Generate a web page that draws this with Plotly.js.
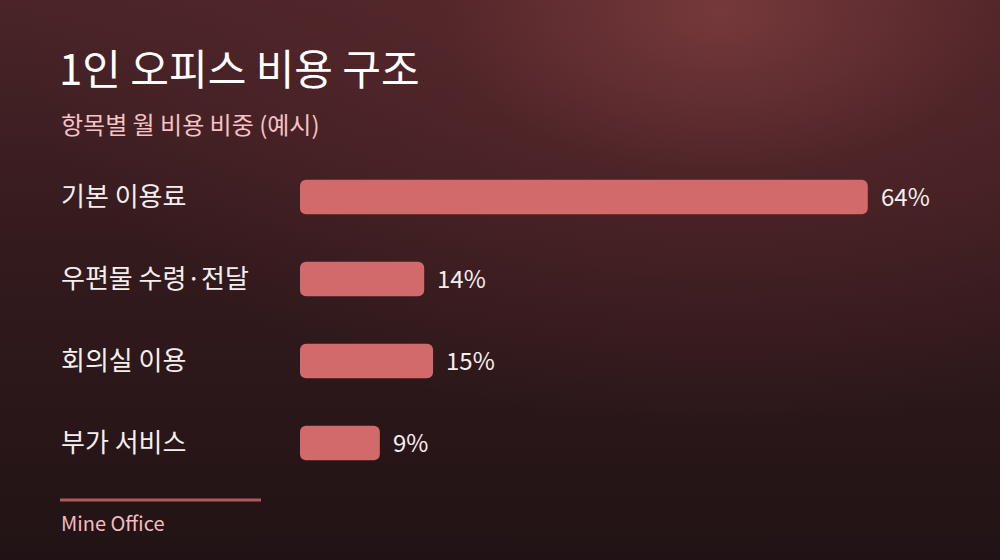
<!DOCTYPE html>
<html>
<head>
<meta charset="utf-8">
<script src="https://cdn.plot.ly/plotly-3.0.1.min.js"></script>
<style>
  html, body { margin:0; padding:0; width:1000px; height:560px; overflow:hidden; }
  body {
    background:
      radial-gradient(ellipse 700px 420px at 720px 10px, rgba(120,58,60,0.95) 0%, rgba(90,40,44,0.6) 40%, rgba(60,28,32,0) 100%),
      linear-gradient(180deg, #4a2428 0%, #331a1d 45%, #211315 100%);
  }
  #chart { width:1000px; height:560px; }
</style>
</head>
<body>
<div id="chart"></div>
<script>
const titleText = "1인 오피스 비용 구조";
const subtitleText = "항목별 월 비용 비중 (예시)";
const sourceText = "Mine Office";
const categories = ["기본 이용료", "우편물 수령·전달", "회의실 이용", "부가 서비스"];
const values = [64, 14, 15, 9];
const valueLabels = ["64%", "14%", "15%", "9%"];

const W = 1000, H = 560;
const M = { l: 300, r: 79, t: 156, b: 76 };
const plotW = W - M.l - M.r, plotH = H - M.t - M.b;
const px2x = px => (px - M.l) / plotW;
const py2y = py => (H - M.b - py) / plotH;
const FONT = '"Noto Sans CJK KR", "Noto Sans", sans-serif';

const annotations = [];
categories.forEach((c, i) => {
  annotations.push({
    xref: 'paper', yref: 'y', x: px2x(59), y: c, xanchor: 'left', yanchor: 'middle', yshift: 3,
    text: c, showarrow: false, font: { family: FONT, size: 26, color: '#f6eeee' }
  });
  annotations.push({
    xref: 'x', yref: 'y', x: values[i], y: c, xanchor: 'left', yanchor: 'middle', xshift: 11, yshift: 2,
    text: valueLabels[i], showarrow: false, font: { family: FONT, size: 24, color: '#f6eeee' }
  });
});
annotations.push({
  xref: 'paper', yref: 'paper', x: px2x(59), y: py2y(124), xanchor: 'left', yanchor: 'middle',
  text: subtitleText, showarrow: false, font: { family: FONT, size: 24, color: '#f6c2c6' }
});
annotations.push({
  xref: 'paper', yref: 'paper', x: px2x(59), y: py2y(522), xanchor: 'left', yanchor: 'middle',
  text: sourceText, showarrow: false, font: { family: FONT, size: 20, color: '#f4bcc0' }
});

const data = [
  { type: 'bar', orientation: 'h', y: categories, x: values, base: values.map(() => 0),
    width: 0.42, marker: { color: '#d26a6b', cornerradius: 6 }, hoverinfo: 'skip' }
];

const layout = {
  width: W, height: H,
  margin: M,
  barmode: 'overlay',
  paper_bgcolor: 'rgba(0,0,0,0)',
  plot_bgcolor: 'rgba(0,0,0,0)',
  showlegend: false,
  title: {
    text: titleText, x: 0.059, xref: 'container', xanchor: 'left',
    y: 1 - 70 / H, yref: 'container', yanchor: 'middle',
    font: { family: FONT, size: 42, color: '#ffffff' }
  },
  xaxis: { range: [0, 70], visible: false, fixedrange: true },
  yaxis: { type: 'category', categoryorder: 'array', categoryarray: categories,
           range: [3.5, -0.5], visible: false, fixedrange: true },
  annotations: annotations,
  shapes: [{
    type: 'line', xref: 'paper', yref: 'paper',
    x0: px2x(60), x1: px2x(261), y0: py2y(500), y1: py2y(500),
    line: { color: '#b4585d', width: 3 }
  }]
};

Plotly.newPlot('chart', data, layout, { displayModeBar: false, staticPlot: true });
</script>
</body>
</html>
